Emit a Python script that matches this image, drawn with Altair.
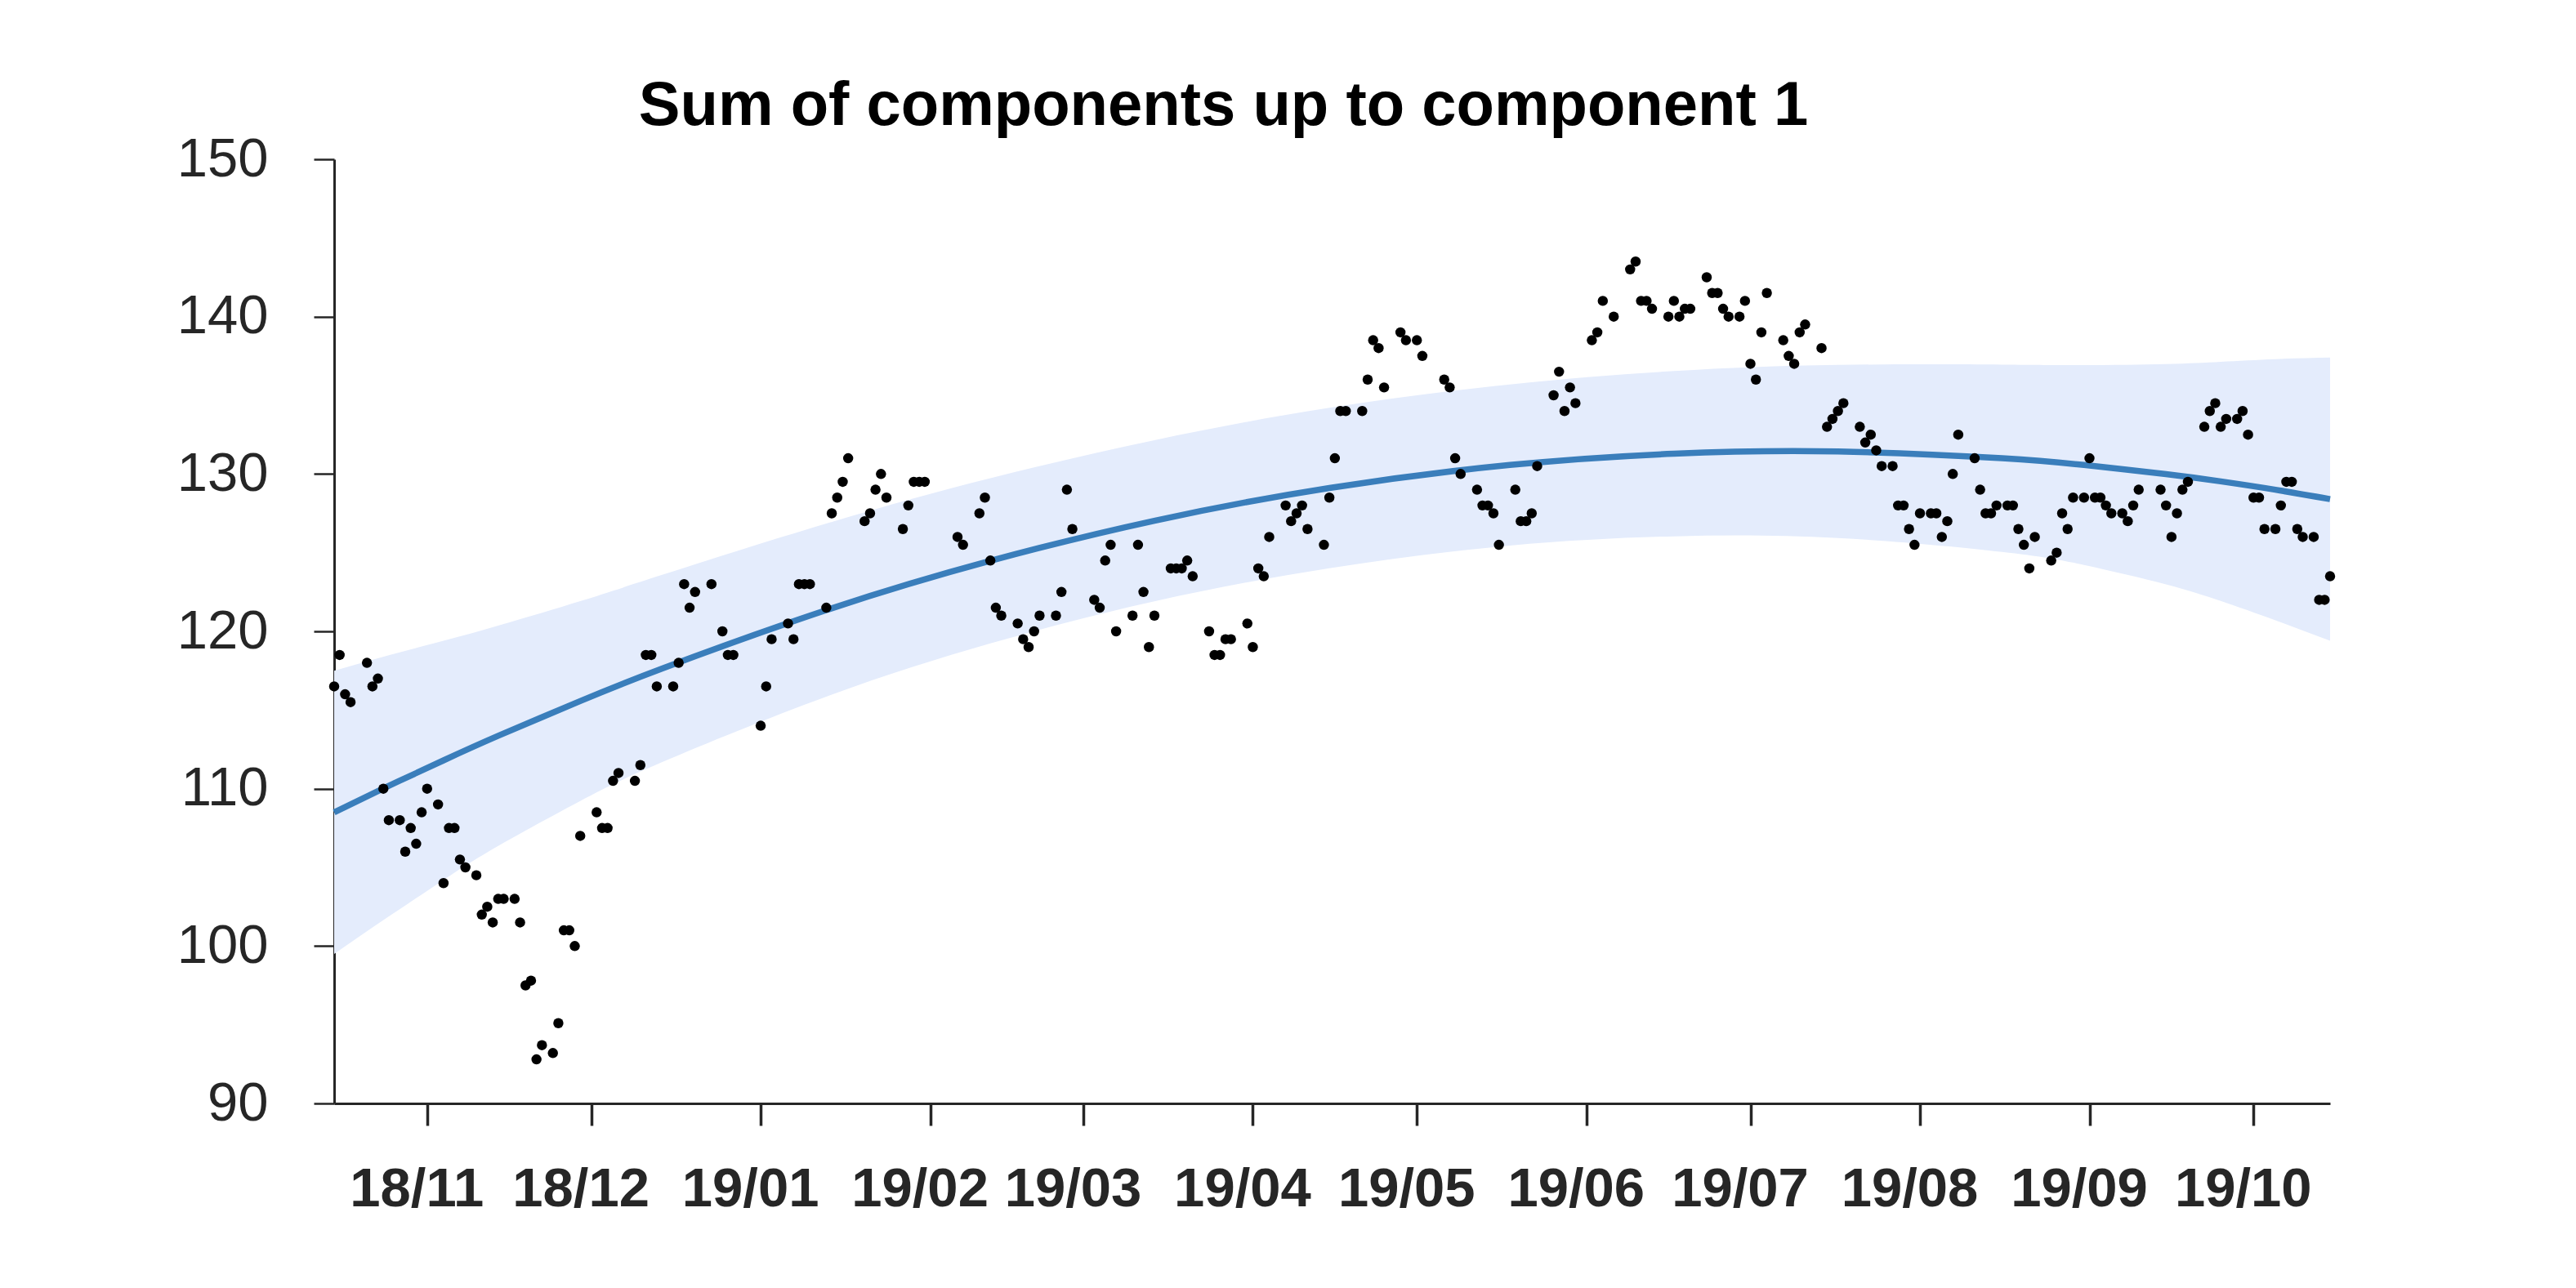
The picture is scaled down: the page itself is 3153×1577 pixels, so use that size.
import altair as alt
import pandas as pd

TITLE = "Sum of components up to component 1"
START = "2018-10-15"

# observation days (offset in days from START) and values
point_days = [0, 1, 2, 3, 6, 7, 8, 9, 10, 12, 13, 14, 15, 16, 17, 19, 20, 21, 22, 23, 24, 26, 27, 28, 29, 30, 31,
              33, 34, 35, 36, 37, 38, 40, 41, 42, 43, 44, 45, 48, 49, 50, 51, 52, 55, 56, 57, 58, 59, 62, 63, 64,
              65, 66, 69, 71, 72, 73, 78, 79, 80, 83, 84, 85, 86, 87, 90, 91, 92, 93, 94, 97, 98, 99, 100, 101,
              104, 105, 106, 107, 108, 114, 115, 118, 119, 120, 121, 122, 125, 126, 127, 128, 129, 132, 133, 134,
              135, 139, 140, 141, 142, 143, 146, 147, 148, 149, 150, 153, 154, 155, 156, 157, 160, 161, 162, 163,
              164, 167, 168, 169, 170, 171, 174, 175, 176, 177, 178, 181, 182, 183, 184, 185, 188, 189, 190, 191,
              192, 195, 196, 198, 199, 203, 204, 205, 206, 209, 210, 211, 212, 213, 216, 217, 218, 219, 220, 223,
              224, 225, 226, 227, 230, 231, 232, 234, 237, 238, 239, 240, 241, 244, 245, 246, 247, 248, 251, 252,
              253, 254, 255, 257, 258, 259, 260, 261, 262, 265, 266, 267, 268, 269, 272, 273, 274, 275, 276, 279,
              280, 281, 282, 283, 285, 286, 287, 288, 289, 290, 292, 293, 294, 295, 296, 297, 300, 301, 302, 303,
              304, 306, 307, 308, 309, 310, 311, 314, 315, 316, 317, 318, 320, 321, 322, 323, 324, 325, 327, 328,
              329, 330, 334, 335, 336, 337, 338, 339, 342, 343, 344, 345, 346, 348, 349, 350, 351, 352, 353, 355,
              356, 357, 358, 359, 360, 362, 363, 364, 365]
point_values = [116.5, 118.5, 116.0, 115.5, 118.0, 116.5, 117.0, 110.0, 108.0, 108.0, 106.0, 107.5, 106.5, 108.5,
                110.0, 109.0, 104.0, 107.5, 107.5, 105.5, 105.0, 104.5, 102.0, 102.5, 101.5, 103.0, 103.0,
                103.0, 101.5, 97.5, 97.8, 92.8, 93.7, 93.2, 95.1, 101.0, 101.0, 100.0, 107.0, 108.5, 107.5, 107.5,
                110.5, 111.0, 110.5, 111.5, 118.5, 118.5, 116.5, 116.5, 118.0, 123.0, 121.5, 122.5, 123.0, 120.0,
                118.5, 118.5, 114.0, 116.5, 119.5, 120.5, 119.5, 123.0, 123.0, 123.0, 121.5, 127.5, 128.5, 129.5,
                131.0, 127.0, 127.5, 129.0, 130.0, 128.5, 126.5, 128.0, 129.5, 129.5, 129.5, 126.0, 125.5, 127.5,
                128.5, 124.5, 121.5, 121.0, 120.5, 119.5, 119.0, 120.0, 121.0, 121.0, 122.5, 129.0, 126.5, 122.0,
                121.5, 124.5, 125.5, 120.0, 121.0, 125.5, 122.5, 119.0, 121.0, 124.0, 124.0, 124.0, 124.5, 123.5,
                120.0, 118.5, 118.5, 119.5, 119.5, 120.5, 119.0, 124.0, 123.5, 126.0, 128.0, 127.0, 127.5, 128.0,
                126.5, 125.5, 128.5, 131.0, 134.0, 134.0, 134.0, 136.0, 138.5, 138.0, 135.5, 139.0, 138.5, 138.5,
                137.5, 136.0, 135.5, 131.0, 130.0, 129.0, 128.0, 128.0, 127.5, 125.5, 129.0, 127.0, 127.0, 127.5,
                130.5, 135.0, 136.5, 134.0, 135.5, 134.5, 138.5, 139.0, 141.0, 140.0, 143.0, 143.5, 141.0, 141.0,
                140.5, 140.0, 141.0, 140.0, 140.5, 140.5, 142.5, 141.5, 141.5, 140.5, 140.0, 140.0, 141.0, 137.0,
                136.0, 139.0, 141.5, 138.5, 137.5, 137.0, 139.0, 139.5, 138.0, 133.0, 133.5, 134.0, 134.5, 133.0,
                132.0, 132.5, 131.5, 130.5, 130.5, 128.0, 128.0, 126.5, 125.5, 127.5, 127.5, 127.5, 126.0, 127.0,
                130.0, 132.5, 131.0, 129.0, 127.5, 127.5, 128.0, 128.0, 128.0, 126.5, 125.5, 124.0, 126.0, 124.5,
                125.0, 127.5, 126.5, 128.5, 128.5, 131.0, 128.5, 128.5, 128.0, 127.5, 127.5, 127.0, 128.0, 129.0,
                129.0, 128.0, 126.0, 127.5, 129.0, 129.5, 133.0, 134.0, 134.5, 133.0, 133.5, 133.5, 134.0, 132.5,
                128.5, 128.5, 126.5, 126.5, 128.0, 129.5, 129.5, 126.5, 126.0, 126.0, 122.0, 122.0, 123.5]

# fitted component and its band, read at sample days
fit_days = [0, 10, 20, 30, 45, 60, 90, 120, 150, 182, 215, 245, 275, 305, 320, 335, 345, 355, 365]
fit_center = [108.50, 110.18, 111.80, 113.36, 115.57, 117.64, 121.35, 124.48, 127.03, 129.11, 130.57, 131.29,
              131.43, 131.00, 130.57, 129.99, 129.53, 129.00, 128.40]
fit_upper = [117.50, 118.48, 119.40, 120.36, 121.92, 123.59, 126.85, 129.73, 132.15, 134.21, 135.69, 136.54,
             136.93, 136.95, 136.92, 136.99, 137.13, 137.30, 137.40]
fit_lower = [99.50, 101.88, 104.20, 106.36, 109.22, 111.69, 115.85, 119.23, 121.91, 124.01, 125.45, 126.04,
             125.93, 125.05, 124.22, 122.99, 121.93, 120.70, 119.40]

tick_months = [(2018, 11), (2018, 12), (2019, 1), (2019, 2), (2019, 3), (2019, 4), (2019, 5), (2019, 6),
               (2019, 7), (2019, 8), (2019, 9), (2019, 10)]
y_ticks = [90, 100, 110, 120, 130, 140, 150]

start = pd.Timestamp(START)
pts = pd.DataFrame({"date": start + pd.to_timedelta(point_days, unit="D"), "value": point_values})
fit = pd.DataFrame({"date": start + pd.to_timedelta(fit_days, unit="D"), "fit": fit_center,
                    "upper": fit_upper, "lower": fit_lower})

AX = "#262626"
FONT = "Liberation Sans"

x_scale = alt.Scale(domain=[alt.DateTime(year=2018, month=10, date=15),
                            alt.DateTime(year=2019, month=10, date=15)], nice=False)
y_scale = alt.Scale(domain=[90, 150], nice=False, zero=False)

x_axis = alt.Axis(values=[alt.DateTime(year=y, month=m, date=1) for y, m in tick_months],
                  format="%y/%m", labelFont=FONT, labelFontSize=67, labelFontWeight="bold",
                  labelColor=AX, tickSize=27, tickWidth=3.5, tickColor=AX, domainColor=AX,
                  domainWidth=3, labelPadding=45, labelOffset=-13, grid=False, labelOverlap=False,
                  labelFlush=False)
y_axis = alt.Axis(values=y_ticks, labelFont=FONT, labelFontSize=67, labelColor=AX, tickSize=25,
                  tickWidth=2.5, tickColor=AX, domainColor=AX, domainWidth=3, labelPadding=56,
                  grid=False, labelOverlap=False, labelFlush=False)

X = alt.X("date:T", scale=x_scale, axis=x_axis, title=None)

band = alt.Chart(fit).mark_area(color="#e4ecfc", opacity=1, interpolate="natural").encode(
    x=X,
    y=alt.Y("lower:Q", scale=y_scale, axis=y_axis, title=None),
    y2="upper:Q",
)
line = alt.Chart(fit).mark_line(color="#3a7ebb", strokeWidth=7.5, interpolate="natural").encode(
    x=X,
    y=alt.Y("fit:Q", scale=y_scale, axis=y_axis, title=None),
)
points = alt.Chart(pts).mark_circle(color="black", size=155, opacity=1).encode(
    x=X,
    y=alt.Y("value:Q", scale=y_scale, axis=y_axis, title=None),
)

chart = alt.layer(band, line, points).properties(
    width=2443,
    height=1156,
    padding={"left": 409, "top": 195, "right": 301, "bottom": 226},
    autosize=alt.AutoSizeParams(type="none"),
    background="white",
    title=alt.TitleParams(text=TITLE, font=FONT, fontSize=76, fontWeight="bold", color="black",
                          anchor="middle", frame="group", dx=-133, dy=75, offset=7,
                          baseline="alphabetic"),
).configure_view(stroke="transparent")

chart.save("out.html", embed_options={"renderer": "svg", "actions": False})
